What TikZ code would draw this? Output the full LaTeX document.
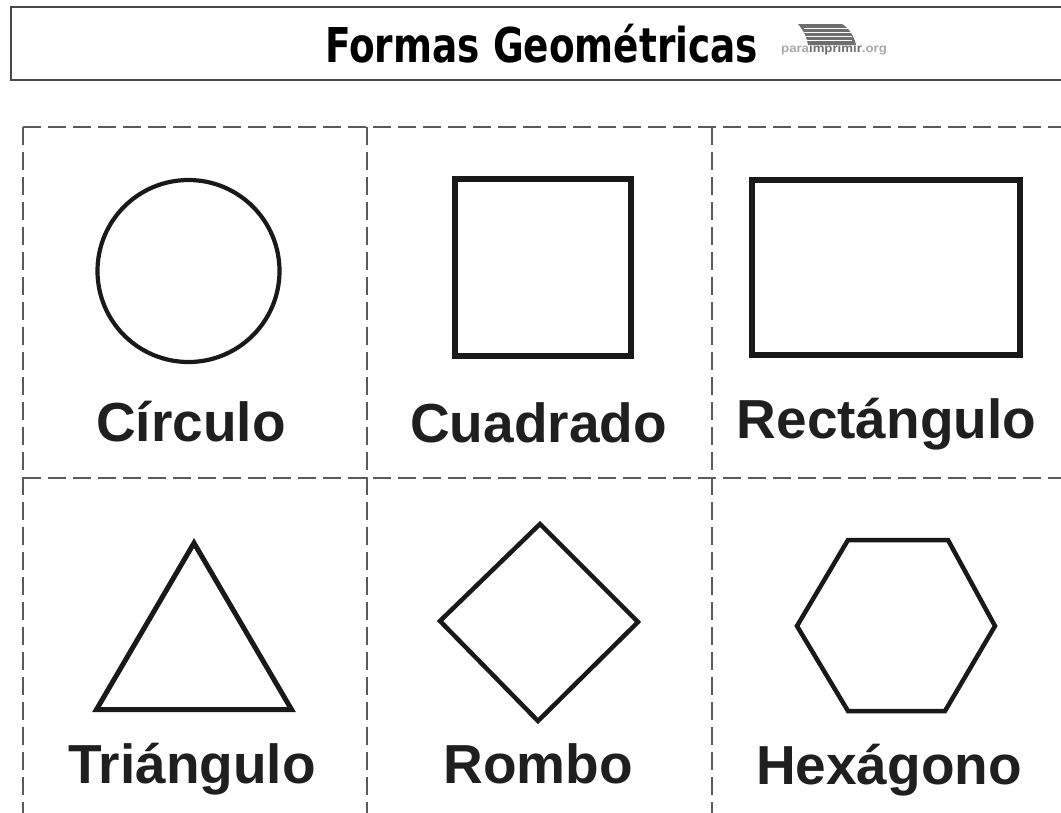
\documentclass[tikz,border=0pt]{standalone}
\usepackage{fontspec}
\setmainfont{Liberation Sans}
\newfontfamily\titlefont[FakeStretch=0.78]{DejaVu Sans}
\definecolor{gridgray}{HTML}{5A5A5A}
\definecolor{boxgray}{HTML}{4A4A4A}
\definecolor{logolight}{HTML}{A8A8A8}
\definecolor{logodark}{HTML}{6E6E6E}
\begin{document}
\begin{tikzpicture}[x=1pt,y=-1pt,
  cutline/.style={draw=gridgray,line width=1.3pt,dash pattern=on 18pt off 7pt},
  shapeline/.style={draw=black!90,line width=#1,line join=miter},
  shapeline/.default=5pt,
  label/.style={anchor=base,inner sep=0pt,font=\fontsize{55}{60}\selectfont\bfseries,text=black!88}]
\useasboundingbox (0,0) rectangle (1061,812);
\fill[white] (0,0) rectangle (1061,812);

% title box
\draw[draw=boxgray,line width=1.5pt] (11,7) rectangle (1075,80);
\node[anchor=base west,inner sep=0pt,font=\titlefont\fontsize{48}{52}\selectfont\bfseries] (title) at (325,62) {Formas Geométricas};

% logo
\fill[logodark] (798,24) -- (842,24) .. controls (849,28) and (854,36) .. (856,45) -- (808,45) .. controls (807,38) and (804,31) .. (798,24) -- cycle;
\foreach \yy in {28.5,32.5,36.5,40.5}{\draw[white,line width=1.5pt] (804,\yy) -- (852,\yy);}
\node[anchor=base west,inner sep=0pt] (logo) at (781,52.5) {\scalebox{1.1}[1]{\fontsize{12}{13}\selectfont\bfseries\textcolor{logolight}{para}\textcolor{logodark}{imprimir}\textcolor{logolight}{.org}}};

% cutting grid
\coordinate (g1) at (23,127);
\coordinate (g2) at (1070,127);
\coordinate (g3) at (23,478);
\coordinate (g4) at (1070,478);
\coordinate (v1t) at (23,127);
\coordinate (v1b) at (23,820);
\coordinate (v2t) at (367,127);
\coordinate (v2b) at (367,820);
\coordinate (v3t) at (712,127);
\coordinate (v3b) at (712,820);
\draw[cutline] (g1) -- (g2);
\draw[cutline] (g3) -- (g4);
\draw[cutline] (v1t) -- (v1b);
\draw[cutline] (v2t) -- (v2b);
\draw[cutline] (v3t) -- (v3b);

% shapes
\draw[shapeline=4.2pt] (188.5,271) circle (91);
\draw[shapeline=6pt] (455,179) rectangle (631,356);
\draw[shapeline=6pt] (752,180) rectangle (1020,355);
\draw[shapeline=5pt] (194,543) -- (291.5,709.5) -- (96.5,709.5) -- cycle;
\draw[shapeline=4.5pt] (540,524) -- (638,622) -- (538,721) -- (440,621) -- cycle;
\draw[shapeline=4.5pt] (848,540) -- (948,540) -- (995,626) -- (945,711) -- (848,711) -- (797,626) -- cycle;

% labels
\node[label] (circulo) at (191,441) {Círculo};
\node[label] (cuadrado) at (538.5,442) {Cuadrado};
\node[label] (rectangulo) at (886.5,438) {Rectángulo};
\node[label] (triangulo) at (192,783) {Triángulo};
\node[label] (rombo) at (538,783) {Rombo};
\node[label] (hexagono) at (889,784) {Hexágono};
\end{tikzpicture}
\end{document}
